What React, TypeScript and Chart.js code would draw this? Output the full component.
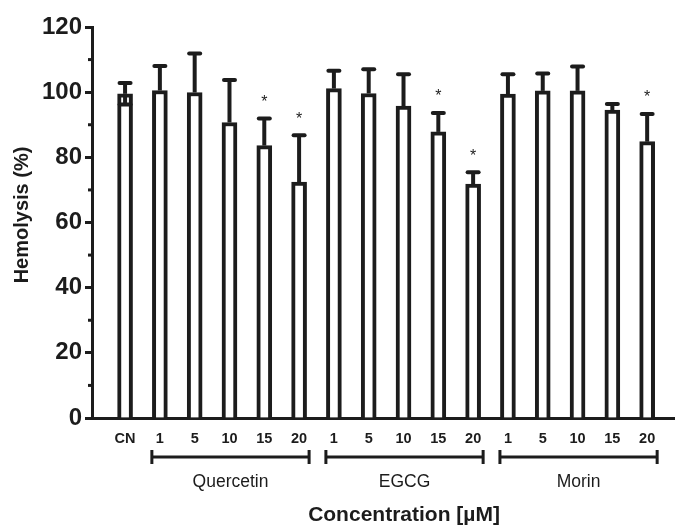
import React, { useEffect, useRef } from "react";
import { Chart, registerables } from "chart.js";

Chart.register(...registerables);

const categories = ["CN", "1", "5", "10", "15", "20", "1", "5", "10", "15", "20", "1", "5", "10", "15", "20"];
const values = [99.5, 100.5, 99.9, 90.7, 83.6, 72.4, 101.1, 99.6, 95.7, 87.8, 71.8, 99.4, 100.4, 100.4, 94.5, 84.8];
const errors = [3.3, 7.5, 12.0, 13.0, 8.3, 14.4, 5.5, 7.4, 9.8, 5.8, 3.6, 6.1, 5.3, 7.5, 1.9, 8.5];
const significant = [false, false, false, false, true, true, false, false, false, true, true, false, false, false, false, true];
const groups = [
  { name: "Quercetin", from: 2, to: 6 },
  { name: "EGCG", from: 7, to: 11 },
  { name: "Morin", from: 12, to: 16 },
];
const yTicks = [0, 20, 40, 60, 80, 100, 120];
const yMinorTicks = [10, 30, 50, 70, 90, 110];

const INK = "#1c1c1c";
const FONT = "'Liberation Sans', Arial, sans-serif";

export default function App() {
  const ref = useRef<HTMLCanvasElement | null>(null);
  useEffect(() => {
    document.body.style.margin = "0";
    const canvas = ref.current!;
    const points = values.map((v, i) => ({ x: i + 1, y: v }));

    const overlay = {
      id: "overlay",
      afterDatasetsDraw(chart: any) {
        const ctx = chart.ctx;
        const xs = chart.scales.x;
        const ys = chart.scales.y;
        ctx.save();
        ctx.strokeStyle = INK;
        ctx.fillStyle = INK;
        values.forEach((v, i) => {
          const px = xs.getPixelForValue(i + 1);
          const top = ys.getPixelForValue(v + errors[i]);
          const base = ys.getPixelForValue(v);
          ctx.lineWidth = 4;
          ctx.lineCap = "butt";
          ctx.beginPath();
          ctx.moveTo(px, base);
          ctx.lineTo(px, top);
          ctx.stroke();
          ctx.lineCap = "round";
          ctx.beginPath();
          ctx.moveTo(px - 5.5, top);
          ctx.lineTo(px + 5.5, top);
          ctx.stroke();
          if (i === 0) {
            const low = ys.getPixelForValue(v - errors[i]);
            ctx.lineCap = "butt";
            ctx.beginPath();
            ctx.moveTo(px, base);
            ctx.lineTo(px, low);
            ctx.stroke();
            ctx.lineCap = "round";
            ctx.beginPath();
            ctx.moveTo(px - 5.5, low);
            ctx.lineTo(px + 5.5, low);
            ctx.stroke();
          }
          if (significant[i]) {
            ctx.font = `16px ${FONT}`;
            ctx.textAlign = "center";
            ctx.textBaseline = "middle";
            ctx.fillText("*", px, top - 16);
          }
        });
        ctx.restore();
      },
      afterDraw(chart: any) {
        const ctx = chart.ctx;
        const xs = chart.scales.x;
        const ys = chart.scales.y;
        ctx.save();
        ctx.strokeStyle = INK;
        ctx.fillStyle = INK;
        ctx.lineWidth = 3;
        yMinorTicks.forEach((t) => {
          const py = ys.getPixelForValue(t);
          ctx.beginPath();
          ctx.moveTo(chart.chartArea.left - 4, py);
          ctx.lineTo(chart.chartArea.left, py);
          ctx.stroke();
        });
        const by = 457;
        groups.forEach((g) => {
          const x1 = xs.getPixelForValue(g.from) - 8;
          const x2 = xs.getPixelForValue(g.to) + 10;
          ctx.lineWidth = 3;
          ctx.beginPath();
          ctx.moveTo(x1, by);
          ctx.lineTo(x2, by);
          ctx.stroke();
          ctx.beginPath();
          ctx.moveTo(x1, by - 7);
          ctx.lineTo(x1, by + 7);
          ctx.moveTo(x2, by - 7);
          ctx.lineTo(x2, by + 7);
          ctx.stroke();
          ctx.font = `17.5px ${FONT}`;
          ctx.textAlign = "center";
          ctx.textBaseline = "middle";
          ctx.fillText(g.name, (x1 + x2) / 2, 482);
        });
        ctx.font = `bold 21px ${FONT}`;
        ctx.textAlign = "center";
        ctx.textBaseline = "middle";
        ctx.fillText("Concentration [\u00b5M]", 404, 515);
        ctx.save();
        ctx.translate(22, 215);
        ctx.rotate(-Math.PI / 2);
        ctx.font = `bold 20px ${FONT}`;
        ctx.fillText("Hemolysis (%)", 0, 0);
        ctx.restore();
        ctx.restore();
      },
    };

    const chart = new Chart(canvas, {
      type: "bar",
      data: {
        datasets: [
          {
            data: points as any,
            backgroundColor: "#ffffff",
            borderColor: INK,
            borderWidth: 4,
            borderSkipped: "bottom",
            barThickness: 15,
          } as any,
        ],
      },
      options: {
        animation: false,
        responsive: false,
        maintainAspectRatio: false,
        layout: { padding: { top: 27, right: 0, left: 0, bottom: 0 } },
        plugins: { legend: { display: false }, tooltip: { enabled: false } },
        scales: {
          x: {
            type: "linear",
            offset: false,
            min: 0.05,
            max: 16.8,
            afterBuildTicks(scale: any) {
              scale.ticks = categories.map((_, i) => ({ value: i + 1 }));
            },
            afterFit(scale: any) {
              scale.height = 109;
            },
            ticks: {
              autoSkip: false,
              maxRotation: 0,
              padding: 12,
              color: INK,
              font: { family: FONT, size: 14.5, weight: "bold" },
              callback: (v: any) => categories[Math.round(Number(v)) - 1] ?? "",
            },
            grid: { display: true, drawOnChartArea: false, drawTicks: false },
            border: { display: true, width: 3, color: INK },
          } as any,
          y: {
            min: 0,
            max: 120,
            afterBuildTicks(scale: any) {
              scale.ticks = yTicks.map((v) => ({ value: v }));
            },
            afterFit(scale: any) {
              scale.width = 92;
            },
            ticks: {
              padding: 3,
              color: INK,
              font: { family: FONT, size: 24, weight: "bold" },
            },
            grid: {
              display: true,
              drawOnChartArea: false,
              drawTicks: true,
              tickLength: 7,
              tickWidth: 3,
              tickColor: INK,
            },
            border: { display: true, width: 3, color: INK },
          } as any,
        },
      },
      plugins: [overlay],
    });
    return () => chart.destroy();
  }, []);
  return (
    <div style={{ width: 675, height: 527 }}>
      <canvas ref={ref} width={675} height={527} style={{ display: "block", width: 675, height: 527 }} />
    </div>
  );
}
